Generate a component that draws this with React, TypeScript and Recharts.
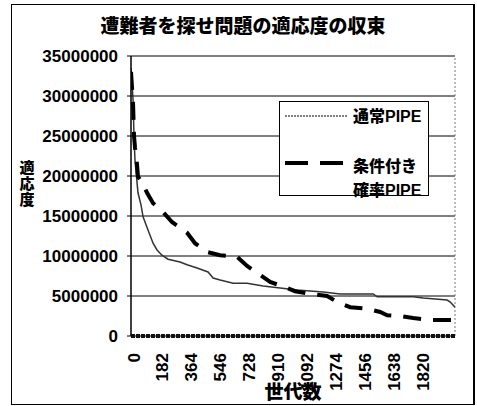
import { LineChart, Line, XAxis, YAxis, CartesianGrid, ReferenceLine, Legend } from "recharts";

const FONT = "'Liberation Sans', 'Noto Sans CJK JP', sans-serif";

const normalName = "通常PIPE";
const normalGens = [0, 13, 19, 25, 44, 63, 76, 107, 139, 164, 195, 233, 309, 353, 416, 485, 517, 561, 643, 731, 832, 939, 1046, 1210, 1317, 1525, 1550, 1777, 1840, 1991, 2010, 2040];
const normalFitness = [33500000, 29500000, 24900000, 22000000, 17900000, 16400000, 14900000, 13250000, 11600000, 10750000, 10100000, 9600000, 9250000, 8900000, 8500000, 8000000, 7250000, 7000000, 6600000, 6600000, 6250000, 6000000, 5750000, 5500000, 5250000, 5250000, 4900000, 4900000, 4750000, 4500000, 4250000, 3600000];

const condName = "条件付き確率PIPE";
const condGens = [0, 13, 19, 25, 38, 44, 69, 101, 139, 202, 258, 353, 403, 479, 561, 668, 731, 794, 876, 951, 1033, 1128, 1235, 1298, 1380, 1487, 1569, 1613, 1695, 1777, 1884, 2040];
const condFitness = [33000000, 29000000, 25000000, 23600000, 21400000, 19900000, 19250000, 17900000, 16600000, 15500000, 14250000, 12900000, 11600000, 10500000, 10100000, 9900000, 8750000, 7900000, 6750000, 6250000, 5600000, 5250000, 5000000, 4250000, 3600000, 3400000, 3000000, 2600000, 2500000, 2250000, 2000000, 2000000];

const xTicks = [0, 182, 364, 546, 728, 910, 1092, 1274, 1456, 1638, 1820];
const yTicks = [0, 5000000, 10000000, 15000000, 20000000, 25000000, 30000000, 35000000];
const xMax = 2040;

const normalData = normalGens.map((g, i) => ({ gen: g, fitness: normalFitness[i] }));
const condData = condGens.map((g, i) => ({ gen: g, fitness: condFitness[i] }));

const XTick = (props: any) => {
  const { x, y, payload } = props;
  const tx = x + 3;
  const ty = y + 17;
  return (
    <text
      x={tx}
      y={ty}
      transform={`rotate(-90, ${tx}, ${ty})`}
      textAnchor="end"
      dominantBaseline="central"
      fontFamily={FONT}
      fontWeight={700}
      fontSize={17}
      fill="#000"
    >
      {payload.value}
    </text>
  );
};

const LegendBox = () => (
  <div
    style={{
      width: 150,
      height: 95,
      boxSizing: "border-box",
      border: "1px solid #000",
      background: "#fff",
      fontFamily: FONT,
      fontWeight: 900,
      fontSize: 16,
      position: "relative",
    }}
  >
    <svg width={150} height={95} style={{ position: "absolute", left: -1, top: -1 }}>
      <line x1={6} y1={15} x2={68} y2={15} stroke="#555" strokeWidth={1.5} strokeDasharray="2 1" />
      <line x1={6} y1={62} x2={68} y2={62} stroke="#000" strokeWidth={4} strokeDasharray="23 12" />
    </svg>
    <div style={{ position: "absolute", left: 73, top: 6, lineHeight: "18px" }}>通常PIPE</div>
    <div style={{ position: "absolute", left: 73, top: 53, lineHeight: "24px" }}>
      条件付き
      <br />
      確率PIPE
    </div>
  </div>
);

export default function App() {
  return (
    <div style={{ position: "absolute", left: 0, top: 0, width: 477, height: 406, background: "#fff" }}>
      <div
        style={{
          position: "absolute",
          left: 11,
          top: 4,
          width: 461,
          height: 399,
          border: "1px solid #000",
          borderRightWidth: 2,
          pointerEvents: "none",
        }}
      />
      <div
        style={{
          position: "absolute",
          left: 0,
          top: 17,
          width: 486,
          textAlign: "center",
          fontFamily: FONT,
          fontWeight: 900,
          fontSize: 19,
          lineHeight: "20px",
        }}
      >
        遭難者を探せ問題の適応度の収束
      </div>
      <div
        style={{
          position: "absolute",
          left: 19,
          top: 160,
          width: 16,
          fontFamily: FONT,
          fontWeight: 900,
          fontSize: 15,
          lineHeight: "16px",
          textAlign: "center",
        }}
      >
        適<br />応<br />度
      </div>
      <div
        style={{
          position: "absolute",
          left: 263,
          top: 383,
          width: 60,
          textAlign: "center",
          fontFamily: FONT,
          fontWeight: 900,
          fontSize: 19,
          lineHeight: "20px",
          zIndex: 2,
        }}
      >
        世代数
      </div>
      <LineChart width={477} height={406} margin={{ top: 56, right: 22, bottom: 0, left: 0 }}>
        <CartesianGrid horizontal vertical={false} stroke="#000" strokeWidth={1} />
        <XAxis
          type="number"
          dataKey="gen"
          domain={[0, xMax]}
          ticks={xTicks}
          interval={0}
          height={70}
          tickSize={0}
          tickMargin={0}
          tick={<XTick />}
          axisLine={{ stroke: "#111", strokeWidth: 4, strokeDasharray: "4 1" }}
          allowDataOverflow
        />
        <YAxis
          type="number"
          domain={[0, 35000000]}
          ticks={yTicks}
          interval={0}
          width={131}
          tickSize={4}
          tickMargin={9}
          tick={{ fontFamily: FONT, fontWeight: 700, fontSize: 17, fill: "#000" }}
          tickLine={{ stroke: "#000" }}
          axisLine={{ stroke: "#000", strokeWidth: 1.5 }}
        />
        <ReferenceLine x={xMax} stroke="#777" strokeDasharray="2 2" />
        <Legend
          layout="vertical"
          align="center"
          verticalAlign="middle"
          content={<LegendBox />}
          wrapperStyle={{ left: 279, top: 101, width: 150, height: 95 }}
        />
        <Line
          data={normalData}
          dataKey="fitness"
          name={normalName}
          type="linear"
          stroke="#333"
          strokeWidth={1.5}
          dot={false}
          isAnimationActive={false}
        />
        <Line
          data={condData}
          dataKey="fitness"
          name={condName}
          type="linear"
          stroke="#000"
          strokeWidth={4}
          strokeDasharray="18 12"
          dot={false}
          isAnimationActive={false}
        />
      </LineChart>
    </div>
  );
}
